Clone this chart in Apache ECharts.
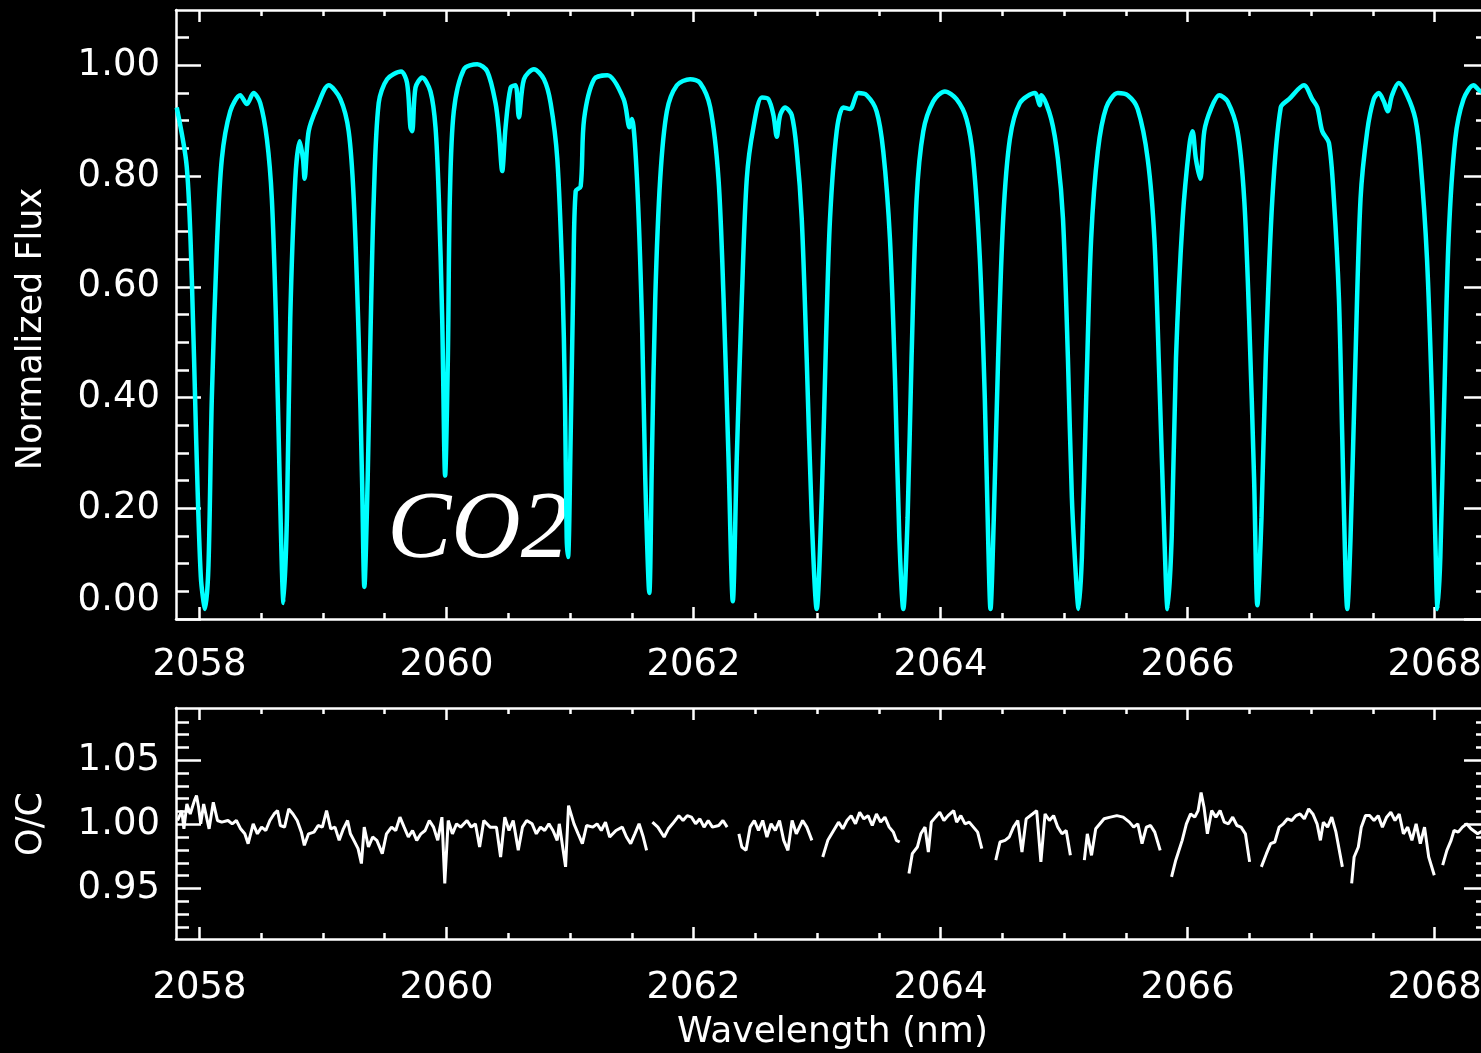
<!DOCTYPE html>
<html>
<head>
<meta charset="utf-8">
<script src="https://cdn.jsdelivr.net/npm/echarts@6/dist/echarts.min.js"></script>
<style>
html,body{margin:0;padding:0;background:#000;}
#chart{width:1481px;height:1053px;}
</style>
</head>
<body>
<div id="chart"></div>
<script>
// ---------- tick values ----------
const xMajorTicks = [2058, 2060, 2062, 2064, 2066, 2068];
const xMinorTicks = [2058, 2058.5, 2059, 2059.5, 2060, 2060.5, 2061, 2061.5, 2062, 2062.5, 2063, 2063.5, 2064, 2064.5, 2065, 2065.5, 2066, 2066.5, 2067, 2067.5, 2068];
const fluxMajorTicks = [0, 0.2, 0.4, 0.6, 0.8, 1.0];
const fluxMinorTicks = [0.05, 0.1, 0.15, 0.2, 0.25, 0.3, 0.35, 0.4, 0.45, 0.5, 0.55, 0.6, 0.65, 0.7, 0.75, 0.8, 0.85, 0.9, 0.95, 1.0, 1.05];
const ocMajorTicks = [0.95, 1.00, 1.05];
const ocMinorTicks = [0.92, 0.93, 0.94, 0.95, 0.96, 0.97, 0.98, 0.99, 1.00, 1.01, 1.02, 1.03, 1.04, 1.05, 1.06, 1.07, 1.08];

// ---------- normalized flux (model) ----------
const fluxWave = [
2057.816,2057.897,2057.938,2057.973,2058.011,2058.046,2058.073,2058.100,2058.141,2058.181,
2058.249,2058.330,2058.384,2058.438,2058.492,2058.546,2058.586,2058.619,2058.649,2058.681,
2058.708,2058.735,2058.776,2058.811,2058.838,2058.851,2058.884,2058.951,2059.046,2059.141,
2059.208,2059.249,2059.289,2059.316,2059.335,2059.362,2059.384,2059.411,2059.451,2059.519,
2059.632,2059.681,2059.708,2059.722,2059.749,2059.803,2059.870,2059.911,2059.938,2059.965,
2059.989,2060.011,2060.027,2060.059,2060.141,2060.249,2060.330,2060.397,2060.424,2060.451,
2060.478,2060.519,2060.559,2060.586,2060.627,2060.708,2060.789,2060.843,2060.897,2060.938,
2060.959,2060.973,2060.984,2061.005,2061.027,2061.046,2061.086,2061.114,2061.195,2061.303,
2061.434,2061.482,2061.501,2061.542,2061.582,2061.609,2061.642,2061.663,2061.690,2061.730,
2061.784,2061.865,2061.973,2062.054,2062.135,2062.202,2062.243,2062.283,2062.318,2062.350,
2062.391,2062.431,2062.485,2062.553,2062.606,2062.647,2062.674,2062.701,2062.741,2062.795,
2062.836,2062.876,2062.916,2062.957,2062.997,2063.038,2063.073,2063.105,2063.159,2063.213,
2063.267,2063.334,2063.402,2063.482,2063.536,2063.590,2063.631,2063.666,2063.698,2063.733,
2063.765,2063.806,2063.860,2063.941,2064.035,2064.129,2064.210,2064.264,2064.318,2064.358,
2064.385,2064.404,2064.431,2064.466,2064.507,2064.561,2064.642,2064.763,2064.803,2064.816,
2064.896,2064.950,2064.991,2065.031,2065.063,2065.098,2065.117,2065.144,2065.179,2065.219,
2065.273,2065.341,2065.435,2065.515,2065.596,2065.677,2065.731,2065.771,2065.812,2065.838,
2065.871,2065.906,2065.960,2066.013,2066.040,2066.067,2066.102,2066.135,2066.188,2066.256,
2066.323,2066.404,2066.458,2066.498,2066.538,2066.565,2066.598,2066.633,2066.686,2066.754,
2066.821,2066.942,2067.009,2067.050,2067.090,2067.144,2067.184,2067.225,2067.252,2067.279,
2067.292,2067.319,2067.359,2067.400,2067.454,2067.507,2067.548,2067.588,2067.620,2067.655,
2067.709,2067.777,2067.844,2067.884,2067.938,2067.978,2068.005,2068.024,2068.046,2068.078,
2068.113,2068.167,2068.234,2068.315,2068.377,2068.430
];
const fluxValue = [
0.924,0.817,0.615,0.327,0.076,0.018,0.097,0.399,0.673,0.831,
0.917,0.946,0.930,0.950,0.932,0.867,0.759,0.543,0.255,0.029,
0.183,0.543,0.795,0.863,0.831,0.795,0.881,0.924,0.964,0.939,
0.881,0.759,0.507,0.255,0.058,0.255,0.507,0.759,0.932,0.975,
0.989,0.968,0.888,0.881,0.960,0.978,0.953,0.888,0.759,0.543,
0.259,0.471,0.759,0.917,0.993,1.002,0.989,0.932,0.881,0.809,
0.888,0.960,0.964,0.906,0.975,0.993,0.975,0.932,0.831,0.615,
0.399,0.147,0.112,0.327,0.615,0.773,0.781,0.903,0.975,0.982,
0.939,0.888,0.903,0.795,0.543,0.255,0.047,0.291,0.579,0.795,
0.917,0.964,0.975,0.968,0.924,0.795,0.579,0.291,0.032,0.291,
0.579,0.795,0.888,0.942,0.939,0.910,0.871,0.910,0.924,0.910,
0.845,0.723,0.471,0.183,0.018,0.219,0.507,0.723,0.881,0.924,
0.921,0.950,0.946,0.917,0.845,0.687,0.435,0.147,0.018,0.183,
0.471,0.759,0.881,0.935,0.953,0.939,0.903,0.831,0.651,0.399,
0.147,0.018,0.183,0.471,0.723,0.867,0.932,0.950,0.928,0.946,
0.903,0.831,0.723,0.471,0.219,0.068,0.018,0.112,0.399,0.687,
0.845,0.924,0.950,0.946,0.921,0.831,0.687,0.435,0.147,0.018,
0.147,0.471,0.723,0.853,0.881,0.831,0.795,0.881,0.921,0.946,
0.935,0.881,0.759,0.543,0.255,0.025,0.183,0.471,0.759,0.924,
0.939,0.964,0.939,0.924,0.881,0.860,0.759,0.579,0.327,0.076,
0.018,0.147,0.471,0.759,0.881,0.939,0.950,0.935,0.917,0.946,
0.968,0.946,0.903,0.831,0.651,0.399,0.147,0.018,0.112,0.399,
0.687,0.867,0.939,0.964,0.953,0.955
];

// ---------- O/C residuals (null = masked line core) ----------
const ocWave = [
2057.823,2057.857,2057.874,2057.898,2057.925,2057.959,2057.976,2057.993,2058.010,2058.034,
2058.078,2058.112,2058.146,2058.180,2058.231,2058.265,2058.299,2058.333,2058.367,2058.394,
2058.435,2058.469,2058.503,2058.537,2058.570,2058.604,2058.632,2058.655,2058.689,2058.723,
2058.757,2058.791,2058.825,2058.849,2058.883,2058.927,2058.961,2058.995,2059.029,2059.063,
2059.097,2059.131,2059.165,2059.199,2059.222,2059.250,2059.284,2059.311,2059.334,2059.368,
2059.402,2059.436,2059.480,2059.514,2059.555,2059.589,2059.623,2059.657,2059.691,2059.725,
2059.759,2059.793,2059.827,2059.861,2059.895,2059.929,2059.963,2059.986,2060.014,2060.048,
2060.081,2060.115,2060.166,2060.200,2060.234,2060.268,2060.302,2060.353,2060.404,2060.438,
2060.472,2060.506,2060.540,2060.581,2060.615,2060.649,2060.693,2060.727,2060.761,2060.795,
2060.829,2060.862,2060.896,2060.913,2060.964,2060.988,2061.032,2061.066,2061.100,2061.134,
2061.185,2061.219,2061.253,2061.287,2061.321,2061.372,2061.423,2061.457,2061.491,2061.525,
2061.559,2061.593,2061.620,2061.640,2061.667,2061.711,2061.762,2061.796,2061.830,2061.881,
2061.915,2061.949,2061.983,2062.017,2062.051,2062.085,2062.119,2062.153,2062.204,2062.238,
2062.272,2062.320,2062.367,2062.391,2062.425,2062.458,2062.492,2062.526,2062.560,2062.594,
2062.628,2062.662,2062.696,2062.730,2062.764,2062.798,2062.832,2062.883,2062.917,2062.958,
2063.000,2063.046,2063.087,2063.174,2063.208,2063.242,2063.276,2063.311,2063.345,2063.379,
2063.413,2063.447,2063.481,2063.515,2063.549,2063.584,2063.618,2063.642,2063.669,2063.700,
2063.744,2063.771,2063.812,2063.840,2063.874,2063.901,2063.925,2063.959,2063.993,2064.027,
2064.061,2064.106,2064.130,2064.164,2064.198,2064.232,2064.266,2064.300,2064.334,2064.400,
2064.447,2064.481,2064.522,2064.556,2064.590,2064.625,2064.659,2064.693,2064.744,2064.778,
2064.812,2064.846,2064.881,2064.915,2064.949,2064.983,2065.017,2065.051,2065.100,2065.164,
2065.188,2065.222,2065.256,2065.290,2065.324,2065.375,2065.427,2065.478,2065.529,2065.563,
2065.597,2065.631,2065.666,2065.700,2065.734,2065.778,2065.830,2065.870,2065.904,2065.956,
2065.990,2066.024,2066.058,2066.085,2066.109,2066.133,2066.160,2066.195,2066.229,2066.263,
2066.297,2066.331,2066.365,2066.399,2066.433,2066.468,2066.502,2066.550,2066.597,2066.638,
2066.672,2066.706,2066.741,2066.775,2066.809,2066.843,2066.877,2066.911,2066.945,2066.980,
2067.014,2067.048,2067.075,2067.099,2067.133,2067.167,2067.201,2067.253,2067.290,2067.328,
2067.348,2067.382,2067.406,2067.440,2067.474,2067.509,2067.543,2067.577,2067.611,2067.645,
2067.679,2067.713,2067.747,2067.782,2067.816,2067.850,2067.884,2067.918,2067.952,2067.997,
2068.020,2068.065,2068.099,2068.133,2068.157,2068.191,2068.225,2068.259,2068.294,2068.348,
2068.420
];
const ocValue = [
1.0030,1.0107,0.9965,1.0159,1.0081,1.0185,1.0224,1.0133,1.0004,1.0159,
0.9965,1.0172,1.0030,1.0017,1.0030,1.0004,1.0030,0.9965,0.9926,0.9849,
1.0004,0.9926,0.9978,0.9952,1.0030,1.0081,1.0107,0.9991,0.9978,1.0120,
1.0081,1.0030,0.9939,0.9836,0.9926,0.9939,0.9991,0.9978,1.0107,0.9965,
0.9978,0.9875,0.9965,1.0030,0.9926,0.9875,0.9810,0.9694,0.9978,0.9823,
0.9901,0.9875,0.9771,0.9926,0.9978,0.9952,1.0056,0.9978,0.9901,0.9952,
0.9875,0.9926,0.9952,1.0030,0.9978,0.9875,1.0056,0.9539,1.0030,0.9926,
1.0004,0.9978,1.0030,0.9978,1.0004,0.9823,1.0030,0.9978,0.9978,0.9745,
1.0056,0.9952,1.0030,0.9797,0.9978,1.0030,1.0004,0.9926,0.9978,0.9952,
1.0004,0.9952,0.9875,1.0004,0.9668,1.0146,1.0004,0.9926,0.9849,0.9991,
0.9978,1.0004,0.9952,1.0017,0.9901,0.9952,0.9978,0.9901,0.9849,0.9926,
1.0004,0.9901,0.9797,null,1.0017,0.9978,0.9901,0.9965,1.0004,1.0068,
1.0030,1.0068,1.0056,1.0004,1.0043,0.9978,1.0030,0.9978,0.9991,1.0030,
0.9978,null,0.9926,0.9823,0.9797,0.9978,1.0030,0.9952,1.0030,0.9901,
1.0004,0.9952,1.0030,0.9875,0.9797,1.0030,0.9926,1.0030,0.9978,0.9875,
null,0.9745,0.9875,1.0017,0.9965,1.0030,1.0068,1.0004,1.0094,1.0043,
1.0068,0.9991,1.0081,1.0017,1.0056,0.9978,0.9939,0.9875,0.9862,null,
0.9616,0.9771,0.9823,0.9926,0.9978,0.9784,1.0017,1.0056,1.0094,1.0030,
1.0068,1.0107,1.0017,1.0068,1.0004,1.0017,0.9978,0.9939,0.9810,null,
0.9720,0.9862,0.9875,0.9901,0.9978,1.0030,0.9784,1.0043,1.0081,1.0107,
0.9707,1.0081,1.0030,1.0068,0.9978,0.9926,0.9952,0.9758,null,0.9720,
0.9926,0.9758,0.9965,1.0004,1.0043,1.0056,1.0068,1.0056,1.0017,0.9978,
1.0004,0.9849,0.9978,0.9991,0.9939,0.9797,null,0.9590,0.9720,0.9875,
1.0004,1.0081,1.0056,1.0107,1.0249,1.0133,0.9926,1.0107,1.0056,1.0107,
1.0017,1.0004,1.0056,0.9991,0.9978,0.9926,0.9707,null,0.9668,0.9771,
0.9849,0.9862,0.9978,1.0004,1.0043,1.0030,1.0068,1.0081,1.0043,1.0120,
1.0081,1.0004,0.9875,1.0017,0.9978,1.0056,0.9939,0.9668,null,0.9539,
0.9745,0.9823,0.9978,1.0068,1.0068,1.0030,1.0068,0.9978,1.0056,1.0094,
1.0030,1.0081,0.9926,0.9978,0.9875,1.0004,0.9849,0.9978,0.9745,0.9603,
null,0.9681,0.9797,0.9875,0.9952,0.9939,0.9978,1.0004,0.9965,0.9926,
0.9970
];

const fluxData = fluxWave.map((w, i) => [w, fluxValue[i]]);
const ocData = ocWave.map((w, i) => [w, ocValue[i]]);

// ---------- styling helpers ----------
const FONT = 'DejaVu Sans';
const WHITE = '#ffffff';
const X_MIN = 2057.81, X_MAX = 2068.44;

function makeX(grid, pos, ticks, len, withLine, labelMargin, name) {
  const ax = {
    type: 'value', gridIndex: grid, position: pos, min: X_MIN, max: X_MAX,
    axisLine: { show: withLine, onZero: false, lineStyle: { color: WHITE, width: 2.5 } },
    axisTick: { show: true, inside: true, length: len, customValues: ticks, lineStyle: { color: WHITE, width: 2.5 } },
    axisLabel: { show: false },
    splitLine: { show: false },
    minorTick: { show: false },
    axisPointer: { show: false }
  };
  if (labelMargin != null) {
    ax.axisLabel = { show: true, customValues: ticks, margin: labelMargin, color: WHITE, fontFamily: FONT, fontSize: 37,
      formatter: v => String(Math.round(v)) };
  }
  if (name) {
    ax.name = name;
    ax.nameLocation = 'middle';
    ax.nameGap = 76;
    ax.nameTextStyle = { color: WHITE, fontFamily: FONT, fontSize: 36 };
  }
  return ax;
}
function makeY(grid, pos, min, max, ticks, len, withLine, labelMargin, raiseMin) {
  const ax = {
    type: 'value', gridIndex: grid, position: pos, min: min, max: max,
    axisLine: { show: withLine, onZero: false, lineStyle: { color: WHITE, width: 2.5 } },
    axisTick: { show: true, inside: true, length: len, customValues: ticks, lineStyle: { color: WHITE, width: 2.5 } },
    axisLabel: { show: false },
    splitLine: { show: false },
    minorTick: { show: false },
    axisPointer: { show: false }
  };
  if (labelMargin != null) {
    ax.axisLabel = { show: true, customValues: ticks, margin: labelMargin, color: WHITE, fontFamily: FONT, fontSize: 37,
      formatter: v => Number(v).toFixed(2) };
    if (raiseMin) ax.axisLabel.verticalAlignMinLabel = 'bottom';
  }
  return ax;
}

const chart = echarts.init(document.getElementById('chart'), null, { renderer: 'canvas' });
chart.setOption({
  backgroundColor: '#000000',
  animation: false,
  grid: [
    { left: 176, top: 10, width: 1313, height: 609, outerBoundsMode: 'none', containLabel: false },
    { left: 176, top: 708, width: 1313, height: 231, outerBoundsMode: 'none', containLabel: false }
  ],
  xAxis: [
    makeX(0, 'bottom', xMajorTicks, 12, true, 28),
    makeX(0, 'bottom', xMinorTicks, 6, false, null),
    makeX(0, 'top', xMajorTicks, 12, true, null),
    makeX(0, 'top', xMinorTicks, 6, false, null),
    makeX(1, 'bottom', xMajorTicks, 12, true, 31, 'Wavelength (nm)'),
    makeX(1, 'bottom', xMinorTicks, 6, false, null),
    makeX(1, 'top', xMajorTicks, 12, true, null),
    makeX(1, 'top', xMinorTicks, 6, false, null)
  ],
  yAxis: [
    makeY(0, 'left', 0, 1.1, fluxMajorTicks, 25, true, 16, true),
    makeY(0, 'left', 0, 1.1, fluxMinorTicks, 13, false, null),
    makeY(0, 'right', 0, 1.1, fluxMajorTicks, 25, true, null),
    makeY(0, 'right', 0, 1.1, fluxMinorTicks, 13, false, null),
    makeY(1, 'left', 0.9105, 1.0908, ocMajorTicks, 25, true, 16, false),
    makeY(1, 'left', 0.9105, 1.0908, ocMinorTicks, 13, false, null),
    makeY(1, 'right', 0.9105, 1.0908, ocMajorTicks, 25, true, null),
    makeY(1, 'right', 0.9105, 1.0908, ocMinorTicks, 13, false, null)
  ],
  series: [
    {
      name: 'Normalized Flux', type: 'line', xAxisIndex: 0, yAxisIndex: 0,
      data: fluxData, showSymbol: false, symbol: 'none', silent: true, z: 3,
      smooth: 0.3,
      lineStyle: { color: '#00ffff', width: 4.5 }, itemStyle: { color: '#00ffff' }
    },
    {
      name: 'O/C', type: 'line', xAxisIndex: 4, yAxisIndex: 4,
      data: ocData, showSymbol: false, symbol: 'none', silent: true, connectNulls: false, z: 3,
      lineStyle: { color: WHITE, width: 3 }, itemStyle: { color: WHITE }
    }
  ],
  graphic: [
    { type: 'text', x: 32, y: 329, rotation: Math.PI / 2,
      style: { text: 'Normalized Flux', fill: WHITE, font: '35px "DejaVu Sans"', align: 'center', verticalAlign: 'middle' } },
    { type: 'text', x: 32, y: 824, rotation: Math.PI / 2,
      style: { text: 'O/C', fill: WHITE, font: '35px "DejaVu Sans"', align: 'center', verticalAlign: 'middle' } },
    { type: 'text', x: 478, y: 532,
      style: { text: 'CO2', fill: WHITE, font: 'italic 96px "Liberation Serif"', align: 'center', verticalAlign: 'middle' } }
  ]
});
</script>
</body>
</html>
